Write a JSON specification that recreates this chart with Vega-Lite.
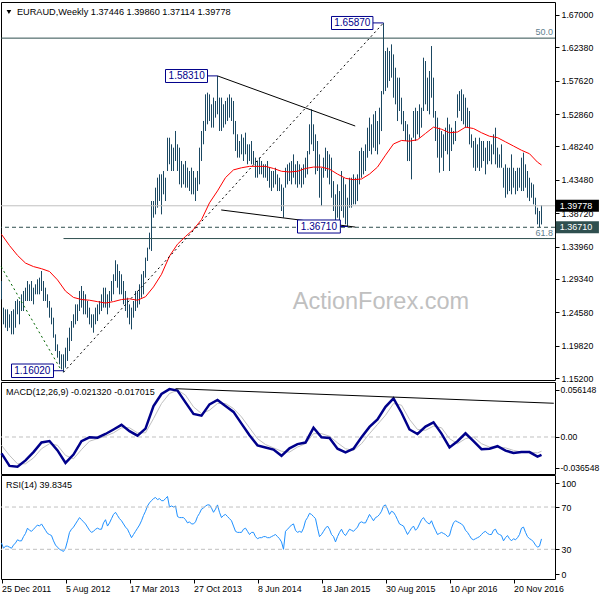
{
"$schema":"https://vega.github.io/schema/vega-lite/v6.json",
"padding":{"left":-4,"top":1,"right":0,"bottom":0},
"background":"#ffffff",
"spacing":2,
"bounds":"flush",
"config":{"font":"Liberation Sans","view":{"stroke":"#000000","strokeWidth":1},"axis":{"labelFont":"Liberation Sans","labelFontSize":8.8,"labelColor":"#000000","tickColor":"#000000","domain":false,"grid":false,"tickSize":4,"labelPadding":2,"labelOverlap":false}},
"resolve":{"scale":{"x":"independent","y":"independent"}},
"datasets":{
"w":[
{"d":"2011-12-25","h":1.2904,"l":1.2643,"r":36},{"d":"2012-01-01","h":1.2524,"l":1.2286,"r":31},{"d":"2012-01-08","h":1.25,"l":1.2238,"r":33},{"d":"2012-01-15","h":1.25,"l":1.219,"r":33},{"d":"2012-01-22","h":1.2429,"l":1.2238,"r":32},{"d":"2012-01-29","h":1.2476,"l":1.2143,"r":31},{"d":"2012-02-05","h":1.25,"l":1.2143,"r":34},{"d":"2012-02-12","h":1.2619,"l":1.2238,"r":36},{"d":"2012-02-19","h":1.2643,"l":1.2429,"r":39},{"d":"2012-02-26","h":1.2619,"l":1.2286,"r":38},
{"d":"2012-03-04","h":1.2714,"l":1.2476,"r":38},{"d":"2012-03-11","h":1.2762,"l":1.2476,"r":42},{"d":"2012-03-18","h":1.2809,"l":1.2619,"r":45},{"d":"2012-03-25","h":1.2904,"l":1.2619,"r":50},{"d":"2012-04-01","h":1.2857,"l":1.2619,"r":48},{"d":"2012-04-08","h":1.2904,"l":1.2619,"r":47},{"d":"2012-04-15","h":1.2809,"l":1.2571,"r":49},{"d":"2012-04-22","h":1.2857,"l":1.2714,"r":51},{"d":"2012-04-29","h":1.2928,"l":1.2714,"r":53},{"d":"2012-05-06","h":1.2952,"l":1.2714,"r":52},
{"d":"2012-05-13","h":1.3047,"l":1.2762,"r":54},{"d":"2012-05-20","h":1.2904,"l":1.2619,"r":51},{"d":"2012-05-27","h":1.2809,"l":1.2619,"r":48},{"d":"2012-06-03","h":1.2714,"l":1.2524,"r":45},{"d":"2012-06-10","h":1.2619,"l":1.2381,"r":44},{"d":"2012-06-17","h":1.2524,"l":1.2286,"r":43},{"d":"2012-06-24","h":1.2381,"l":1.2095,"r":38},{"d":"2012-07-01","h":1.2143,"l":1.1905,"r":34},{"d":"2012-07-08","h":1.2,"l":1.181,"r":32},{"d":"2012-07-15","h":1.1905,"l":1.1715,"r":30},
{"d":"2012-07-22","h":1.1858,"l":1.1644,"r":29},{"d":"2012-07-29","h":1.1858,"l":1.1602,"r":28},{"d":"2012-08-05","h":1.1953,"l":1.1667,"r":31},{"d":"2012-08-12","h":1.2095,"l":1.1763,"r":38},{"d":"2012-08-19","h":1.2238,"l":1.1905,"r":46},{"d":"2012-08-26","h":1.2333,"l":1.2048,"r":49},{"d":"2012-09-02","h":1.2429,"l":1.2238,"r":51},{"d":"2012-09-09","h":1.2571,"l":1.2286,"r":54},{"d":"2012-09-16","h":1.2571,"l":1.2333,"r":57},{"d":"2012-09-23","h":1.2762,"l":1.2476,"r":60},
{"d":"2012-09-30","h":1.2833,"l":1.2524,"r":58},{"d":"2012-10-07","h":1.2762,"l":1.2429,"r":56},{"d":"2012-10-14","h":1.2714,"l":1.2429,"r":54},{"d":"2012-10-21","h":1.2619,"l":1.2381,"r":51},{"d":"2012-10-28","h":1.2524,"l":1.2286,"r":48},{"d":"2012-11-04","h":1.2429,"l":1.2238,"r":46},{"d":"2012-11-11","h":1.2429,"l":1.2167,"r":47},{"d":"2012-11-18","h":1.2524,"l":1.2286,"r":49},{"d":"2012-11-25","h":1.2571,"l":1.2333,"r":50},{"d":"2012-12-02","h":1.2619,"l":1.2429,"r":49},
{"d":"2012-12-09","h":1.2714,"l":1.2476,"r":49},{"d":"2012-12-16","h":1.2809,"l":1.2524,"r":55},{"d":"2012-12-23","h":1.2809,"l":1.2524,"r":58},{"d":"2012-12-30","h":1.2714,"l":1.2429,"r":52},{"d":"2013-01-06","h":1.2762,"l":1.2524,"r":55},{"d":"2013-01-13","h":1.2904,"l":1.2619,"r":59},{"d":"2013-01-20","h":1.3,"l":1.2714,"r":63},{"d":"2013-01-27","h":1.32,"l":1.2904,"r":65},{"d":"2013-02-03","h":1.3143,"l":1.2809,"r":62},{"d":"2013-02-10","h":1.3047,"l":1.2714,"r":59},
{"d":"2013-02-17","h":1.3,"l":1.2714,"r":57},{"d":"2013-02-24","h":1.2904,"l":1.2571,"r":54},{"d":"2013-03-03","h":1.2762,"l":1.2476,"r":51},{"d":"2013-03-10","h":1.2666,"l":1.2381,"r":49},{"d":"2013-03-17","h":1.2571,"l":1.2286,"r":45},{"d":"2013-03-24","h":1.2524,"l":1.2214,"r":41},{"d":"2013-03-31","h":1.2619,"l":1.2381,"r":44},{"d":"2013-04-07","h":1.2762,"l":1.2476,"r":47},{"d":"2013-04-14","h":1.2762,"l":1.2524,"r":50},{"d":"2013-04-21","h":1.2857,"l":1.2571,"r":53},
{"d":"2013-04-28","h":1.3,"l":1.2666,"r":57},{"d":"2013-05-05","h":1.3047,"l":1.2714,"r":62},{"d":"2013-05-12","h":1.3238,"l":1.2952,"r":66},{"d":"2013-05-19","h":1.338,"l":1.319,"r":71},{"d":"2013-05-26","h":1.3594,"l":1.3357,"r":74},{"d":"2013-06-02","h":1.4046,"l":1.3333,"r":76},{"d":"2013-06-09","h":1.4046,"l":1.3808,"r":78},{"d":"2013-06-16","h":1.4236,"l":1.3855,"r":79},{"d":"2013-06-23","h":1.4379,"l":1.3951,"r":77},{"d":"2013-06-30","h":1.4427,"l":1.4046,"r":78},
{"d":"2013-07-07","h":1.4427,"l":1.3855,"r":76},{"d":"2013-07-14","h":1.4474,"l":1.4141,"r":76},{"d":"2013-07-21","h":1.4379,"l":1.4046,"r":78},{"d":"2013-07-28","h":1.4949,"l":1.4474,"r":80},{"d":"2013-08-04","h":1.4949,"l":1.457,"r":70},{"d":"2013-08-11","h":1.4855,"l":1.4474,"r":71},{"d":"2013-08-18","h":1.4807,"l":1.4474,"r":70},{"d":"2013-08-25","h":1.5045,"l":1.4617,"r":71},{"d":"2013-09-01","h":1.4855,"l":1.4474,"r":61},{"d":"2013-09-08","h":1.4807,"l":1.4284,"r":60},
{"d":"2013-09-15","h":1.4617,"l":1.4236,"r":60},{"d":"2013-09-22","h":1.4569,"l":1.4284,"r":60},{"d":"2013-09-29","h":1.4617,"l":1.4236,"r":58},{"d":"2013-10-06","h":1.4522,"l":1.4236,"r":55},{"d":"2013-10-13","h":1.4474,"l":1.4189,"r":56},{"d":"2013-10-20","h":1.4522,"l":1.4141,"r":54},{"d":"2013-10-27","h":1.4474,"l":1.4141,"r":54},{"d":"2013-11-03","h":1.4379,"l":1.4046,"r":56},{"d":"2013-11-10","h":1.4474,"l":1.4189,"r":61},{"d":"2013-11-17","h":1.4807,"l":1.4284,"r":64},
{"d":"2013-11-24","h":1.5045,"l":1.4617,"r":68},{"d":"2013-12-01","h":1.5188,"l":1.4855,"r":69},{"d":"2013-12-08","h":1.5568,"l":1.5045,"r":71},{"d":"2013-12-15","h":1.5592,"l":1.514,"r":72},{"d":"2013-12-22","h":1.5568,"l":1.5188,"r":72},{"d":"2013-12-29","h":1.5426,"l":1.5093,"r":69},{"d":"2014-01-05","h":1.5521,"l":1.5093,"r":65},{"d":"2014-01-12","h":1.5473,"l":1.5235,"r":68},{"d":"2014-01-19","h":1.5831,"l":1.5283,"r":72},{"d":"2014-01-26","h":1.5521,"l":1.5045,"r":65},
{"d":"2014-02-02","h":1.5521,"l":1.5045,"r":60},{"d":"2014-02-09","h":1.5426,"l":1.5093,"r":62},{"d":"2014-02-16","h":1.5473,"l":1.514,"r":63},{"d":"2014-02-23","h":1.5521,"l":1.5188,"r":61},{"d":"2014-03-02","h":1.5568,"l":1.5235,"r":59},{"d":"2014-03-09","h":1.5521,"l":1.5188,"r":57},{"d":"2014-03-16","h":1.5473,"l":1.4998,"r":52},{"d":"2014-03-23","h":1.5188,"l":1.476,"r":47},{"d":"2014-03-30","h":1.4998,"l":1.4665,"r":46},{"d":"2014-04-06","h":1.4902,"l":1.4665,"r":46},
{"d":"2014-04-13","h":1.4998,"l":1.4712,"r":46},{"d":"2014-04-20","h":1.495,"l":1.4617,"r":49},{"d":"2014-04-27","h":1.5021,"l":1.4712,"r":50},{"d":"2014-05-04","h":1.4855,"l":1.457,"r":47},{"d":"2014-05-11","h":1.4855,"l":1.4617,"r":44},{"d":"2014-05-18","h":1.4902,"l":1.457,"r":46},{"d":"2014-05-25","h":1.4759,"l":1.457,"r":46},{"d":"2014-06-01","h":1.4665,"l":1.4379,"r":42},{"d":"2014-06-08","h":1.4617,"l":1.4379,"r":40},{"d":"2014-06-15","h":1.4665,"l":1.4427,"r":41},
{"d":"2014-06-22","h":1.4617,"l":1.4427,"r":41},{"d":"2014-06-29","h":1.457,"l":1.4379,"r":42},{"d":"2014-07-06","h":1.457,"l":1.4379,"r":42},{"d":"2014-07-13","h":1.4617,"l":1.4332,"r":41},{"d":"2014-07-20","h":1.452,"l":1.4236,"r":41},{"d":"2014-07-27","h":1.4474,"l":1.4188,"r":42},{"d":"2014-08-03","h":1.4474,"l":1.4236,"r":43},{"d":"2014-08-10","h":1.452,"l":1.4283,"r":44},{"d":"2014-08-17","h":1.4426,"l":1.4188,"r":42},{"d":"2014-08-24","h":1.4378,"l":1.4188,"r":40},
{"d":"2014-08-31","h":1.4283,"l":1.3903,"r":37},{"d":"2014-09-07","h":1.4236,"l":1.3808,"r":30},{"d":"2014-09-14","h":1.452,"l":1.4236,"r":47},{"d":"2014-09-21","h":1.4569,"l":1.4283,"r":49},{"d":"2014-09-28","h":1.4593,"l":1.4331,"r":51},{"d":"2014-10-05","h":1.4616,"l":1.4283,"r":53},{"d":"2014-10-12","h":1.4711,"l":1.4378,"r":54},{"d":"2014-10-19","h":1.4569,"l":1.4283,"r":48},{"d":"2014-10-26","h":1.4616,"l":1.4236,"r":46},{"d":"2014-11-02","h":1.4569,"l":1.4283,"r":47},
{"d":"2014-11-09","h":1.452,"l":1.4236,"r":46},{"d":"2014-11-16","h":1.4569,"l":1.4283,"r":50},{"d":"2014-11-23","h":1.4664,"l":1.4378,"r":57},{"d":"2014-11-30","h":1.4759,"l":1.4426,"r":60},{"d":"2014-12-07","h":1.514,"l":1.4711,"r":64},{"d":"2014-12-14","h":1.5354,"l":1.4854,"r":63},{"d":"2014-12-21","h":1.514,"l":1.4759,"r":61},{"d":"2014-12-28","h":1.4997,"l":1.4426,"r":59},{"d":"2015-01-04","h":1.4902,"l":1.4474,"r":50},{"d":"2015-01-11","h":1.4711,"l":1.4093,"r":42},
{"d":"2015-01-18","h":1.452,"l":1.3974,"r":44},{"d":"2015-01-25","h":1.4664,"l":1.4378,"r":47},{"d":"2015-02-01","h":1.4807,"l":1.4474,"r":50},{"d":"2015-02-08","h":1.4759,"l":1.4378,"r":52},{"d":"2015-02-15","h":1.4711,"l":1.4283,"r":49},{"d":"2015-02-22","h":1.4664,"l":1.4093,"r":44},{"d":"2015-03-01","h":1.433,"l":1.3903,"r":42},{"d":"2015-03-08","h":1.4141,"l":1.3713,"r":37},{"d":"2015-03-15","h":1.4283,"l":1.3808,"r":42},{"d":"2015-03-22","h":1.4188,"l":1.3713,"r":46},
{"d":"2015-03-29","h":1.4474,"l":1.3903,"r":49},{"d":"2015-04-05","h":1.4378,"l":1.3808,"r":45},{"d":"2015-04-12","h":1.4283,"l":1.3713,"r":43},{"d":"2015-04-19","h":1.4093,"l":1.3671,"r":46},{"d":"2015-04-26","h":1.4378,"l":1.3951,"r":49},{"d":"2015-05-03","h":1.4378,"l":1.3951,"r":48},{"d":"2015-05-10","h":1.4426,"l":1.3998,"r":47},{"d":"2015-05-17","h":1.4378,"l":1.3998,"r":49},{"d":"2015-05-24","h":1.4426,"l":1.4045,"r":51},{"d":"2015-05-31","h":1.4759,"l":1.4283,"r":55},
{"d":"2015-06-07","h":1.4807,"l":1.4378,"r":56},{"d":"2015-06-14","h":1.4759,"l":1.4426,"r":55},{"d":"2015-06-21","h":1.4854,"l":1.4474,"r":55},{"d":"2015-06-28","h":1.5092,"l":1.4664,"r":59},{"d":"2015-07-05","h":1.5235,"l":1.4759,"r":63},{"d":"2015-07-12","h":1.514,"l":1.4711,"r":60},{"d":"2015-07-19","h":1.5282,"l":1.4807,"r":57},{"d":"2015-07-26","h":1.533,"l":1.4759,"r":60},{"d":"2015-08-02","h":1.5187,"l":1.4711,"r":61},{"d":"2015-08-09","h":1.5377,"l":1.4854,"r":63},
{"d":"2015-08-16","h":1.5615,"l":1.5044,"r":66},{"d":"2015-08-23","h":1.6587,"l":1.5568,"r":71},{"d":"2015-08-30","h":1.6186,"l":1.5615,"r":72},{"d":"2015-09-06","h":1.6234,"l":1.5663,"r":68},{"d":"2015-09-13","h":1.6186,"l":1.5758,"r":63},{"d":"2015-09-20","h":1.6281,"l":1.5806,"r":66},{"d":"2015-09-27","h":1.6138,"l":1.552,"r":65},{"d":"2015-10-04","h":1.5948,"l":1.5425,"r":62},{"d":"2015-10-11","h":1.5806,"l":1.5187,"r":58},{"d":"2015-10-18","h":1.5806,"l":1.533,"r":54},
{"d":"2015-10-25","h":1.552,"l":1.514,"r":53},{"d":"2015-11-01","h":1.533,"l":1.5044,"r":52},{"d":"2015-11-08","h":1.5187,"l":1.4902,"r":48},{"d":"2015-11-15","h":1.514,"l":1.4616,"r":44},{"d":"2015-11-22","h":1.4997,"l":1.4616,"r":47},{"d":"2015-11-29","h":1.4949,"l":1.4355,"r":50},{"d":"2015-12-06","h":1.533,"l":1.4949,"r":52},{"d":"2015-12-13","h":1.5377,"l":1.4902,"r":48},{"d":"2015-12-20","h":1.533,"l":1.4997,"r":50},{"d":"2015-12-27","h":1.5425,"l":1.4949,"r":54},
{"d":"2016-01-03","h":1.5377,"l":1.5092,"r":58},{"d":"2016-01-10","h":1.6091,"l":1.533,"r":60},{"d":"2016-01-17","h":1.6043,"l":1.5425,"r":57},{"d":"2016-01-24","h":1.5806,"l":1.533,"r":55},{"d":"2016-01-31","h":1.5901,"l":1.5282,"r":54},{"d":"2016-02-07","h":1.6257,"l":1.552,"r":57},{"d":"2016-02-14","h":1.5806,"l":1.5235,"r":52},{"d":"2016-02-21","h":1.533,"l":1.4902,"r":48},{"d":"2016-02-28","h":1.5235,"l":1.4664,"r":44},{"d":"2016-03-06","h":1.5092,"l":1.445,"r":45},
{"d":"2016-03-13","h":1.5044,"l":1.4664,"r":46},{"d":"2016-03-20","h":1.4997,"l":1.4474,"r":45},{"d":"2016-03-27","h":1.5092,"l":1.4759,"r":44},{"d":"2016-04-03","h":1.5235,"l":1.4711,"r":42},{"d":"2016-04-10","h":1.514,"l":1.4474,"r":43},{"d":"2016-04-17","h":1.5092,"l":1.4759,"r":50},{"d":"2016-04-24","h":1.5044,"l":1.4854,"r":55},{"d":"2016-05-01","h":1.5187,"l":1.4902,"r":57},{"d":"2016-05-08","h":1.5568,"l":1.5235,"r":56},{"d":"2016-05-15","h":1.5615,"l":1.533,"r":55},
{"d":"2016-05-22","h":1.5639,"l":1.5187,"r":54},{"d":"2016-05-29","h":1.5568,"l":1.514,"r":52},{"d":"2016-06-05","h":1.552,"l":1.5092,"r":48},{"d":"2016-06-12","h":1.5377,"l":1.5092,"r":46},{"d":"2016-06-19","h":1.533,"l":1.4854,"r":43},{"d":"2016-06-26","h":1.4997,"l":1.4807,"r":40},{"d":"2016-07-03","h":1.4902,"l":1.4521,"r":39},{"d":"2016-07-10","h":1.4949,"l":1.4474,"r":40},{"d":"2016-07-17","h":1.4854,"l":1.4521,"r":41},{"d":"2016-07-24","h":1.4949,"l":1.4474,"r":42},
{"d":"2016-07-31","h":1.4902,"l":1.4521,"r":44},{"d":"2016-08-07","h":1.4902,"l":1.4616,"r":46},{"d":"2016-08-14","h":1.4807,"l":1.4426,"r":47},{"d":"2016-08-21","h":1.4902,"l":1.4569,"r":45},{"d":"2016-08-28","h":1.4902,"l":1.4616,"r":44},{"d":"2016-09-04","h":1.4854,"l":1.4569,"r":44},{"d":"2016-09-11","h":1.4997,"l":1.4711,"r":48},{"d":"2016-09-18","h":1.5092,"l":1.4569,"r":49},{"d":"2016-09-25","h":1.4807,"l":1.4521,"r":45},{"d":"2016-10-02","h":1.4711,"l":1.4521,"r":44},
{"d":"2016-10-09","h":1.4854,"l":1.4521,"r":43},{"d":"2016-10-16","h":1.452,"l":1.4236,"r":38},{"d":"2016-10-23","h":1.4569,"l":1.4093,"r":41},{"d":"2016-10-30","h":1.452,"l":1.4141,"r":43},{"d":"2016-11-06","h":1.452,"l":1.4188,"r":40},{"d":"2016-11-13","h":1.4711,"l":1.4141,"r":38},{"d":"2016-11-20","h":1.452,"l":1.4236,"r":40},{"d":"2016-11-27","h":1.4474,"l":1.4141,"r":39},{"d":"2016-12-04","h":1.452,"l":1.4188,"r":41},{"d":"2016-12-11","h":1.452,"l":1.4236,"r":44},
{"d":"2016-12-18","h":1.4664,"l":1.4188,"r":50},{"d":"2016-12-25","h":1.4735,"l":1.4188,"r":51},{"d":"2017-01-01","h":1.4569,"l":1.4236,"r":46},{"d":"2017-01-08","h":1.4474,"l":1.4093,"r":42},{"d":"2017-01-15","h":1.4378,"l":1.4045,"r":40},{"d":"2017-01-22","h":1.4307,"l":1.4093,"r":39},{"d":"2017-01-29","h":1.4283,"l":1.3998,"r":37},{"d":"2017-02-05","h":1.4093,"l":1.3855,"r":34},{"d":"2017-02-12","h":1.395,"l":1.3713,"r":32},{"d":"2017-02-19","h":1.3903,"l":1.3671,"r":33},
{"d":"2017-02-26","h":1.3986,"l":1.37114,"r":39.8345}
],
"ind":[
{"d":"2011-12-25","a":1.357,"m":-0.0196,"s":-0.010},{"d":"2012-01-22","a":1.341,"m":-0.0345,"s":-0.022},{"d":"2012-02-19","a":1.327,"m":-0.0355,"s":-0.032},{"d":"2012-03-18","a":1.316,"m":-0.028,"s":-0.032},{"d":"2012-04-15","a":1.311,"m":-0.018,"s":-0.025},{"d":"2012-05-13","a":1.308,"m":-0.0065,"s":-0.014},{"d":"2012-06-10","a":1.304,"m":-0.0048,"s":-0.008},{"d":"2012-07-08","a":1.292,"m":-0.016,"s":-0.010},{"d":"2012-08-05","a":1.276,"m":-0.031,"s":-0.022},{"d":"2012-09-02","a":1.267,"m":-0.021,"s":-0.026},
{"d":"2012-09-30","a":1.264,"m":-0.005,"s":-0.015},{"d":"2012-10-28","a":1.263,"m":-0.0004,"s":-0.005},{"d":"2012-11-25","a":1.261,"m":-0.0008,"s":-0.002},{"d":"2012-12-23","a":1.259,"m":0.0036,"s":0.001},{"d":"2013-01-20","a":1.261,"m":0.009,"s":0.005},{"d":"2013-02-17","a":1.264,"m":0.0145,"s":0.011},{"d":"2013-03-17","a":1.265,"m":0.007,"s":0.011},{"d":"2013-04-14","a":1.263,"m":0.0016,"s":0.005},{"d":"2013-05-12","a":1.268,"m":0.010,"s":0.005},{"d":"2013-06-09","a":1.282,"m":0.037,"s":0.022},
{"d":"2013-07-07","a":1.300,"m":0.0514,"s":0.040},{"d":"2013-08-04","a":1.326,"m":0.0572,"s":0.052},{"d":"2013-09-01","a":1.343,"m":0.0555,"s":0.056},{"d":"2013-09-29","a":1.354,"m":0.0414,"s":0.050},{"d":"2013-10-27","a":1.364,"m":0.0275,"s":0.036},{"d":"2013-11-24","a":1.378,"m":0.0255,"s":0.028},{"d":"2013-12-22","a":1.402,"m":0.039,"s":0.032},{"d":"2014-01-19","a":1.419,"m":0.0442,"s":0.040},{"d":"2014-02-16","a":1.438,"m":0.037,"s":0.040},{"d":"2014-03-16","a":1.449,"m":0.030,"s":0.034},
{"d":"2014-04-13","a":1.452,"m":0.016,"s":0.024},{"d":"2014-05-11","a":1.454,"m":0.002,"s":0.011},{"d":"2014-06-08","a":1.454,"m":-0.010,"s":-0.002},{"d":"2014-07-06","a":1.454,"m":-0.0125,"s":-0.009},{"d":"2014-08-03","a":1.451,"m":-0.015,"s":-0.013},{"d":"2014-08-31","a":1.447,"m":-0.0225,"s":-0.017},{"d":"2014-09-28","a":1.446,"m":-0.0135,"s":-0.018},{"d":"2014-10-26","a":1.447,"m":-0.0085,"s":-0.012},{"d":"2014-11-23","a":1.451,"m":-0.0066,"s":-0.008},{"d":"2014-12-21","a":1.453,"m":0.011,"s":0.004},
{"d":"2015-01-18","a":1.453,"m":-0.0004,"s":0.004},{"d":"2015-02-15","a":1.450,"m":-0.0012,"s":0.001},{"d":"2015-03-15","a":1.443,"m":-0.014,"s":-0.007},{"d":"2015-04-12","a":1.437,"m":-0.0183,"s":-0.014},{"d":"2015-05-10","a":1.435,"m":-0.014,"s":-0.016},{"d":"2015-06-07","a":1.436,"m":-0.0004,"s":-0.008},{"d":"2015-07-05","a":1.443,"m":0.012,"s":0.004},{"d":"2015-08-02","a":1.453,"m":0.021,"s":0.015},{"d":"2015-08-30","a":1.470,"m":0.036,"s":0.026},{"d":"2015-09-27","a":1.486,"m":0.0462,"s":0.040},
{"d":"2015-10-25","a":1.491,"m":0.029,"s":0.038},{"d":"2015-11-22","a":1.490,"m":0.009,"s":0.021},{"d":"2015-12-20","a":1.492,"m":0.0036,"s":0.009},{"d":"2016-01-17","a":1.501,"m":0.0125,"s":0.008},{"d":"2016-02-14","a":1.510,"m":0.0175,"s":0.013},{"d":"2016-03-13","a":1.507,"m":0.004,"s":0.011},{"d":"2016-04-10","a":1.502,"m":-0.0125,"s":-0.002},{"d":"2016-05-08","a":1.503,"m":-0.005,"s":-0.008},{"d":"2016-06-05","a":1.510,"m":0.0044,"s":-0.002},{"d":"2016-07-03","a":1.508,"m":-0.005,"s":0.000},
{"d":"2016-07-31","a":1.502,"m":-0.0145,"s":-0.008},{"d":"2016-08-28","a":1.497,"m":-0.014,"s":-0.012},{"d":"2016-09-25","a":1.495,"m":-0.011,"s":-0.012},{"d":"2016-10-23","a":1.489,"m":-0.0163,"s":-0.013},{"d":"2016-11-20","a":1.483,"m":-0.019,"s":-0.016},{"d":"2016-12-18","a":1.477,"m":-0.018,"s":-0.018},{"d":"2017-01-15","a":1.472,"m":-0.018,"s":-0.018},{"d":"2017-02-12","a":1.460,"m":-0.0235,"s":-0.019},{"d":"2017-02-26","a":1.456,"m":-0.02132,"s":-0.017015}
],
"bx":[
{"lab":"1.58310","x1":"2013-07-21","x2":"2013-12-15","y1":1.5737,"y2":1.5922,"xc":"2013-10-03","yc":1.5831,"xe":"2014-01-19"},
{"lab":"1.65870","x1":"2015-02-22","x2":"2015-07-17","y1":1.6493,"y2":1.6679,"xc":"2015-05-06","yc":1.6587,"xe":"2015-08-23"},
{"lab":"1.36710","x1":"2014-10-26","x2":"2015-03-25","y1":1.3589,"y2":1.3775,"xc":"2015-01-09","yc":1.3682,"xe":"2015-04-19"},
{"lab":"1.16020","x1":"2012-01-29","x2":"2012-06-24","y1":1.1527,"y2":1.172,"xc":"2012-04-11","yc":1.1624,"xe":"2012-07-29"}
],
"rb":[
{"lab":"1.39778","x1":"2017-04-17","x2":"2017-09-15","xt":"2017-05-01","y1":1.3893,"y2":1.4063,"yc":1.3978},
{"lab":"1.36710","x1":"2017-04-17","x2":"2017-09-15","xt":"2017-05-01","y1":1.3586,"y2":1.3756,"yc":1.3671}
]
},
"vconcat":[
{
"width":554,"height":378,
"resolve":{"axis":{"x":"independent","y":"independent"}},
"layer":[
{"data":{"name":"w"},"mark":{"type":"rule","color":"#1b4862","strokeWidth":1},"encoding":{
 "x":{"field":"d","type":"temporal","axis":null,"scale":{"type":"utc","domain":[1324620000000,1492149600000]}},
 "y":{"field":"h","type":"quantitative","title":null,"scale":{"domain":[1.14917,1.68855],"zero":false,"nice":false},"axis":{"orient":"right","values":[1.67,1.6238,1.5762,1.5286,1.4824,1.4348,1.3872,1.3396,1.2934,1.2458,1.1982,1.152],"format":".5f","title":null,"labelOverlap":false}},
 "y2":{"field":"l"}}},
{"data":{"values":[{"p":1.637}]},"mark":{"type":"rule","color":"#2f4f4f","strokeWidth":1},"encoding":{"y":{"field":"p","type":"quantitative","axis":null}}},
{"data":{"values":[{"p":1.39778}]},"mark":{"type":"rule","color":"#c0c0c0","strokeWidth":1},"encoding":{"y":{"field":"p","type":"quantitative","axis":null}}},
{"data":{"values":[{"p":1.3671}]},"mark":{"type":"rule","color":"#2f4f4f","strokeWidth":1,"strokeDash":[4,3]},"encoding":{"y":{"field":"p","type":"quantitative","axis":null}}},
{"data":{"values":[{"d1":"2012-07-29","d2":"2017-04-14","p":1.351}]},"mark":{"type":"rule","color":"#2f4f4f","strokeWidth":1},"encoding":{"x":{"field":"d1","type":"temporal","axis":null},"x2":{"field":"d2"},"y":{"field":"p","type":"quantitative","axis":null}}},
{"data":{"name":"ind"},"mark":{"type":"line","color":"#ff0000","strokeWidth":1},"encoding":{"x":{"field":"d","type":"temporal","axis":null},"y":{"field":"a","type":"quantitative","axis":null}}},
{"data":{"values":[{"d1":"2014-01-19","p1":1.5831,"d2":"2015-05-16","p2":1.5116},{"d1":"2014-02-01","p1":1.3918,"d2":"2015-05-16","p2":1.3674}]},"mark":{"type":"rule","color":"#000000","strokeWidth":1},"encoding":{"x":{"field":"d1","type":"temporal","axis":null},"x2":{"field":"d2"},"y":{"field":"p1","type":"quantitative","axis":null},"y2":{"field":"p2"}}},
{"data":{"values":[{"d1":"2012-07-29","p1":1.1602,"d2":"2015-08-23","p2":1.6587}]},"mark":{"type":"rule","color":"#000000","strokeWidth":1,"strokeDash":[2,3]},"encoding":{"x":{"field":"d1","type":"temporal","axis":null},"x2":{"field":"d2"},"y":{"field":"p1","type":"quantitative","axis":null},"y2":{"field":"p2"}}},
{"data":{"values":[{"d1":"2011-12-24","p1":1.3108,"d2":"2012-07-17","p2":1.166}]},"mark":{"type":"rule","color":"#006400","strokeWidth":1,"strokeDash":[2,3]},"encoding":{"x":{"field":"d1","type":"temporal","axis":null},"x2":{"field":"d2"},"y":{"field":"p1","type":"quantitative","axis":null},"y2":{"field":"p2"}}},
{"data":{"name":"bx"},"mark":{"type":"rule","color":"#00008b","strokeWidth":1},"encoding":{"x":{"field":"x2","type":"temporal","axis":null},"x2":{"field":"xe"},"y":{"field":"yc","type":"quantitative","axis":null}}},
{"data":{"name":"bx"},"mark":{"type":"rect","fill":"#ffffff","stroke":"#00008b","strokeWidth":1},"encoding":{"x":{"field":"x1","type":"temporal","axis":null},"x2":{"field":"x2"},"y":{"field":"y1","type":"quantitative","axis":null},"y2":{"field":"y2"}}},
{"data":{"name":"bx"},"mark":{"type":"text","color":"#00008b","fontSize":10,"align":"center","baseline":"middle"},"encoding":{"x":{"field":"xc","type":"temporal","axis":null},"y":{"field":"yc","type":"quantitative","axis":null},"text":{"field":"lab"}}},
{"data":{"values":[{"lab":"50.0","p":1.637,"d":"2017-04-07"},{"lab":"61.8","p":1.351,"d":"2017-04-07"}]},"mark":{"type":"text","color":"#5f7f8f","fontSize":9,"align":"right","baseline":"bottom","dy":-1},"encoding":{"x":{"field":"d","type":"temporal","axis":null},"y":{"field":"p","type":"quantitative","axis":null},"text":{"field":"lab"}}},
{"data":{"values":[{"txt":"ActionForex.com","d":"2015-08-14","p":1.2605}]},"mark":{"type":"text","color":"#c0c0c0","fontSize":23.5,"align":"center","baseline":"middle"},"encoding":{"x":{"field":"d","type":"temporal","axis":null},"y":{"field":"p","type":"quantitative","axis":null},"text":{"field":"txt"}}},
{"data":{"values":[{"d":"2012-01-20","p":1.6743}]},"mark":{"type":"point","shape":"triangle-down","filled":true,"color":"#000000","size":22,"opacity":1},"encoding":{"x":{"field":"d","type":"temporal","axis":null},"y":{"field":"p","type":"quantitative","axis":null}}},
{"data":{"values":[{"txt":"EURAUD,Weekly  1.37446 1.39860 1.37114 1.39778","d":"2012-02-17","p":1.6743}]},"mark":{"type":"text","color":"#000000","fontSize":9.2,"align":"left","baseline":"middle"},"encoding":{"x":{"field":"d","type":"temporal","axis":null},"y":{"field":"p","type":"quantitative","axis":null},"text":{"field":"txt"}}},
{"data":{"name":"rb"},"mark":{"type":"rect"},"encoding":{"x":{"field":"x1","type":"temporal","axis":null},"x2":{"field":"x2"},"y":{"field":"y1","type":"quantitative","axis":null},"y2":{"field":"y2"},"fill":{"condition":{"test":"datum.lab == '1.39778'","value":"#000000"},"value":"#2f4f4f"}}},
{"data":{"name":"rb"},"mark":{"type":"text","color":"#ffffff","fontSize":9,"align":"left","baseline":"middle"},"encoding":{"x":{"field":"xt","type":"temporal","axis":null},"y":{"field":"yc","type":"quantitative","axis":null},"text":{"field":"lab"}}}
]
},
{
"spacing":1,
"bounds":"flush",
"resolve":{"scale":{"x":"independent","y":"independent"}},
"vconcat":[
{
"width":554,"height":92,
"resolve":{"axis":{"x":"independent","y":"independent"}},
"layer":[
{"data":{"name":"ind"},"mark":{"type":"line","color":"#c0c0c0","strokeWidth":1},"encoding":{
 "x":{"field":"d","type":"temporal","axis":null,"scale":{"type":"utc","domain":[1324620000000,1492149600000]}},
 "y":{"field":"s","type":"quantitative","title":null,"scale":{"domain":[-0.0442,0.0657],"zero":false,"nice":false},"axis":{"orient":"right","values":[0.056148,0,-0.036548],"labelExpr":"datum.value > 0.01 ? '0.056148' : (datum.value < -0.01 ? '-0.036548' : '0.00')","title":null,"labelOverlap":false,"labelFontSize":8.6,"labelPadding":1}}}},
{"data":{"values":[{"v":0}]},"mark":{"type":"rule","color":"#c0c0c0","strokeWidth":1,"strokeDash":[4,3]},"encoding":{"y":{"field":"v","type":"quantitative","axis":null}}},
{"data":{"name":"ind"},"mark":{"type":"line","color":"#00008b","strokeWidth":2.5},"encoding":{"x":{"field":"d","type":"temporal","axis":null},"y":{"field":"m","type":"quantitative","axis":null}}},
{"data":{"values":[{"d1":"2013-08-25","v1":0.0577,"d2":"2017-04-10","v2":0.0403}]},"mark":{"type":"rule","color":"#000000","strokeWidth":1},"encoding":{"x":{"field":"d1","type":"temporal","axis":null},"x2":{"field":"d2"},"y":{"field":"v1","type":"quantitative","axis":null},"y2":{"field":"v2"}}},
{"data":{"values":[{"txt":"MACD(12,26,9) -0.021320 -0.017015","d":"2012-01-10","v":0.0541}]},"mark":{"type":"text","color":"#000000","fontSize":9,"align":"left","baseline":"middle"},"encoding":{"x":{"field":"d","type":"temporal","axis":null},"y":{"field":"v","type":"quantitative","axis":null},"text":{"field":"txt"}}}
]
},
{
"width":554,"height":104,
"resolve":{"axis":{"x":"independent","y":"independent"}},
"layer":[
{"data":{"name":"w"},"mark":{"type":"line","color":"#1e90ff","strokeWidth":1},"encoding":{
 "x":{"field":"d","type":"temporal","title":null,"scale":{"type":"utc","domain":[1324620000000,1492149600000]},
  "axis":{"values":[1324771200000,1344124800000,1363478400000,1382832000000,1402185600000,1421539200000,1440892800000,1460246400000,1479600000000],"labelExpr":"utcFormat(datum.value, '%-d %b %Y')","labelAlign":"left","labelPadding":1,"labelFlush":false,"labelOverlap":false,"title":null}},
 "y":{"field":"r","type":"quantitative","title":null,"scale":{"domain":[1.9,100.3],"zero":false,"nice":false},"axis":{"orient":"right","values":[92.7,70,30,6.6],"labelExpr":"datum.value > 90 ? '100' : (datum.value < 10 ? '0' : format(datum.value, 'd'))","title":null,"labelOverlap":false}}}},
{"data":{"values":[{"v":70},{"v":30}]},"mark":{"type":"rule","color":"#c0c0c0","strokeWidth":1,"strokeDash":[4,3]},"encoding":{"y":{"field":"v","type":"quantitative","axis":null}}},
{"data":{"values":[{"txt":"RSI(14) 39.8345","d":"2012-01-10","v":90.8}]},"mark":{"type":"text","color":"#000000","fontSize":9,"align":"left","baseline":"middle"},"encoding":{"x":{"field":"d","type":"temporal","axis":null},"y":{"field":"v","type":"quantitative","axis":null},"text":{"field":"txt"}}}
]
}
]
}
]
}
